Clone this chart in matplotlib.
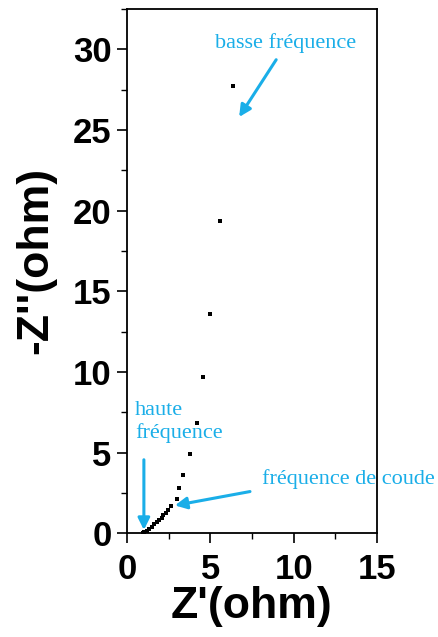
import matplotlib
matplotlib.use("Agg")
import matplotlib.pyplot as plt
from matplotlib.ticker import MultipleLocator

# Data (Z' real part, -Z'' imaginary part), ohm
z_real = [0.96, 1.04, 1.18, 1.32, 1.48, 1.64, 1.78, 1.92, 2.08, 2.18, 2.32, 2.44,
          2.64, 2.98, 3.14, 3.38, 3.78, 4.18, 4.54, 4.98, 5.56, 6.34]
z_imag = [0.02, 0.06, 0.14, 0.25, 0.41, 0.56, 0.68, 0.82, 0.97, 1.13, 1.28, 1.44,
          1.71, 2.13, 2.79, 3.61, 4.92, 6.86, 9.71, 13.58, 19.37, 27.73]

x_ticks = [0, 5, 10, 15]
y_ticks = [0, 5, 10, 15, 20, 25, 30]
x_label = "Z'(ohm)"
y_label = "-Z''(ohm)"
ann_low = "basse fréquence"
ann_high = "haute\nfréquence"
ann_knee = "fréquence de coude"

blue = "#1AAEE8"

fig = plt.figure(figsize=(4.39, 6.37), dpi=100)
ax = fig.add_axes([0.289, 0.163, 0.570, 0.823])

ax.plot(z_real, z_imag, linestyle="none", marker="s", markersize=3.2,
        color="black", markeredgewidth=0)

ax.set_xlim(0, 15)
ax.set_ylim(0, 32.5)
ax.set_xticks(x_ticks)
ax.set_yticks(y_ticks)
ax.xaxis.set_minor_locator(MultipleLocator(2.5))
ax.yaxis.set_minor_locator(MultipleLocator(2.5))
ax.tick_params(which="major", direction="out", length=7, width=1.2,
               labelsize=25, pad=4)
ax.tick_params(axis="x", which="major", pad=7)
ax.tick_params(which="minor", direction="out", length=4, width=1.0)
for lbl in ax.get_xticklabels() + ax.get_yticklabels():
    lbl.set_fontweight("bold")
    lbl.set_family("Liberation Sans")
for s in ax.spines.values():
    s.set_linewidth(1.3)

ax.set_xlabel(x_label, fontsize=32, fontweight="bold", family="Liberation Sans",
              labelpad=0)
ax.set_ylabel(y_label, fontsize=32, fontweight="bold", family="Liberation Sans")
ax.yaxis.set_label_coords(-0.283, 0.521)

arrowprops = dict(arrowstyle="-|>,head_length=0.7,head_width=0.35",
                  color=blue, lw=2.2, shrinkA=0, shrinkB=0)
tfont = dict(family="Liberation Serif", fontsize=16, color=blue)

# basse fréquence
ax.text(9.54, 30.4, ann_low, ha="center", va="center", **tfont)
ax.annotate("", xy=(6.73, 25.8), xytext=(8.95, 29.35), arrowprops=arrowprops)

# haute fréquence
ax.text(0.5, 6.9, ann_high, ha="left", va="center", linespacing=1.2, **tfont)
ax.annotate("", xy=(1.02, 0.2), xytext=(1.02, 4.55), arrowprops=arrowprops)

# fréquence de coude
ax.text(8.1, 3.35, ann_knee, ha="left", va="center", clip_on=False, **tfont)
ax.annotate("", xy=(2.88, 1.72), xytext=(7.38, 2.58), arrowprops=arrowprops)

fig.savefig("out.png", dpi=100)
